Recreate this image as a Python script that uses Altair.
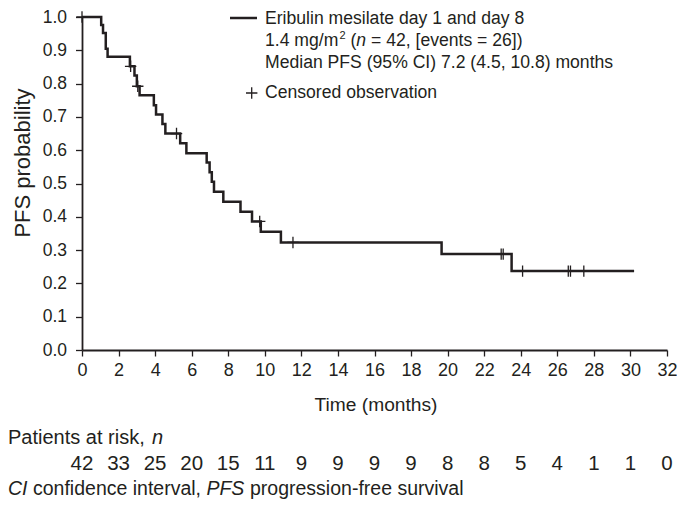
import altair as alt
import pandas as pd

FONT = "Liberation Sans"
DARK = "#231f20"

# Kaplan-Meier step curve (time in months, PFS probability after the step)
step_time = [0, 1.05, 1.15, 1.3, 1.4, 2.62, 2.87, 3.0, 3.15, 3.93, 4.05, 4.4, 4.56,
             5.37, 5.71, 6.82, 6.98, 7.1, 7.22, 7.73, 8.67, 9.3, 9.78, 10.88,
             19.67, 23.5, 30.2]
step_surv = [1.0, 0.976, 0.952, 0.905, 0.881, 0.852, 0.824, 0.792, 0.765, 0.735, 0.707,
             0.679, 0.650, 0.621, 0.591, 0.563, 0.534, 0.505, 0.475, 0.445, 0.415,
             0.386, 0.355, 0.323, 0.288, 0.237, 0.237]

# Censored observations
cens_time = [0, 2.66, 3.05, 5.17, 9.72, 11.54, 22.93, 23.04, 24.1, 26.6, 26.72, 27.45]
cens_surv = [1.0, 0.852, 0.792, 0.650, 0.386, 0.323, 0.288, 0.288, 0.237, 0.237, 0.237, 0.237]

# Patients at risk
risk_months = list(range(0, 33, 2))
risk_n = [42, 33, 25, 20, 15, 11, 9, 9, 9, 9, 8, 8, 5, 4, 1, 1, 0]

x_ticks = list(range(0, 33, 2))
y_ticks = [i / 10 for i in range(0, 11)]

curve_df = pd.DataFrame({"t": step_time, "s": step_surv})
cens_df = pd.DataFrame({"t": cens_time, "s": cens_surv})
risk_df = pd.DataFrame({"t": risk_months, "n": [str(v) for v in risk_n]})

# layout (page pixels)
OX, OY = 82, 17          # plot-area origin on the page
PW, PH = 585, 333        # plot-area size
PAD_L, PAD_T = OX - 8, OY - 8
PAD_R = 669 - PAD_L - PW
PAD_B = 492 - PAD_T - PH

xscale = alt.Scale(domain=[0, 32], nice=False, zero=False)
yscale = alt.Scale(domain=[0, 1], nice=False, zero=False)

xaxis = alt.Axis(
    values=x_ticks, format="d", title=None, grid=False, labelFontSize=18,
    tickSize=6, tickWidth=1.3, domainWidth=1.8, labelPadding=5,
    labelFlush=False, labelOverlap=False)
yaxis = alt.Axis(
    values=y_ticks, format=".1f", title=None, grid=False, labelFontSize=17.5,
    tickSize=6.5, tickWidth=1.3, domainWidth=1.8, labelPadding=9,
    labelFlush=False, labelOverlap=False)

CROSS = "M-1,0L1,0M0,-1L0,1"

curve = alt.Chart(curve_df).mark_line(
    interpolate="step-after", color=DARK, strokeWidth=2.5
).encode(
    x=alt.X("t:Q", scale=xscale, axis=xaxis),
    y=alt.Y("s:Q", scale=yscale, axis=yaxis),
)

cens = alt.Chart(cens_df).mark_point(
    shape=CROSS, size=130, filled=False, color=DARK, strokeWidth=1.3, opacity=1
).encode(x=alt.X("t:Q", scale=xscale, axis=xaxis),
         y=alt.Y("s:Q", scale=yscale, axis=yaxis))

risk = alt.Chart(risk_df).mark_text(
    font=FONT, fontSize=20.5, color=DARK, baseline="middle", align="center"
).encode(x=alt.X("t:Q", scale=xscale, axis=xaxis), y=alt.value(464 - OY), text="n:N")


def txt(text, px, py, size=17.6, style="normal", align="left", angle=0):
    return alt.Chart(pd.DataFrame({"txt": [text]})).mark_text(
        font=FONT, fontSize=size, fontStyle=style, color=DARK,
        align=align, baseline="middle", angle=angle
    ).encode(text="txt:N", x=alt.value(px - OX), y=alt.value(py - OY))


legend_line = alt.Chart(pd.DataFrame({"a": [0]})).mark_rule(
    color=DARK, strokeWidth=2.5
).encode(x=alt.value(230 - OX), x2=alt.value(257 - OX), y=alt.value(18 - OY))

legend_cross = alt.Chart(pd.DataFrame({"a": [0]})).mark_point(
    shape=CROSS, size=130, filled=False, color=DARK, strokeWidth=1.3, opacity=1
).encode(x=alt.value(251.7 - OX), y=alt.value(93 - OY))

texts = [
    txt("Eribulin mesilate day 1 and day 8", 265, 19),
    txt("1.4 mg/m", 265, 41),
    txt("2", 339.4, 36, size=11),
    txt("(", 350.4, 41),
    txt("n", 356.3, 41, style="italic"),
    txt("= 42, [events = 26])", 371, 41),
    txt("Median PFS (95% CI) 7.2 (4.5, 10.8) months", 265, 63),
    txt("Censored observation", 265, 93),
    txt("PFS probability", 23, 163, size=22, align="center", angle=270),
    txt("Time (months)", 376, 405, size=19.2, align="center"),
    txt("Patients at risk,", 8, 438, size=20),
    txt("n", 152, 438, size=20, style="italic"),
    txt("CI", 8, 489, size=19.5, style="italic"),
    txt("confidence interval,", 33, 489, size=19.5),
    txt("PFS", 206.4, 489, size=19.5, style="italic"),
    txt("progression-free survival", 250, 489, size=19.5),
]

chart = alt.layer(curve, cens, risk, legend_line, legend_cross, *texts).properties(
    width=PW, height=PH,
    autosize=alt.AutoSizeParams(type="none"),
    padding={"left": PAD_L, "top": PAD_T, "right": PAD_R, "bottom": PAD_B},
).configure_view(stroke=None).configure_axis(
    labelFont=FONT, labelColor=DARK, tickColor=DARK, domainColor=DARK
)

chart.save("out.html", embed_options={"renderer": "svg", "actions": False})
